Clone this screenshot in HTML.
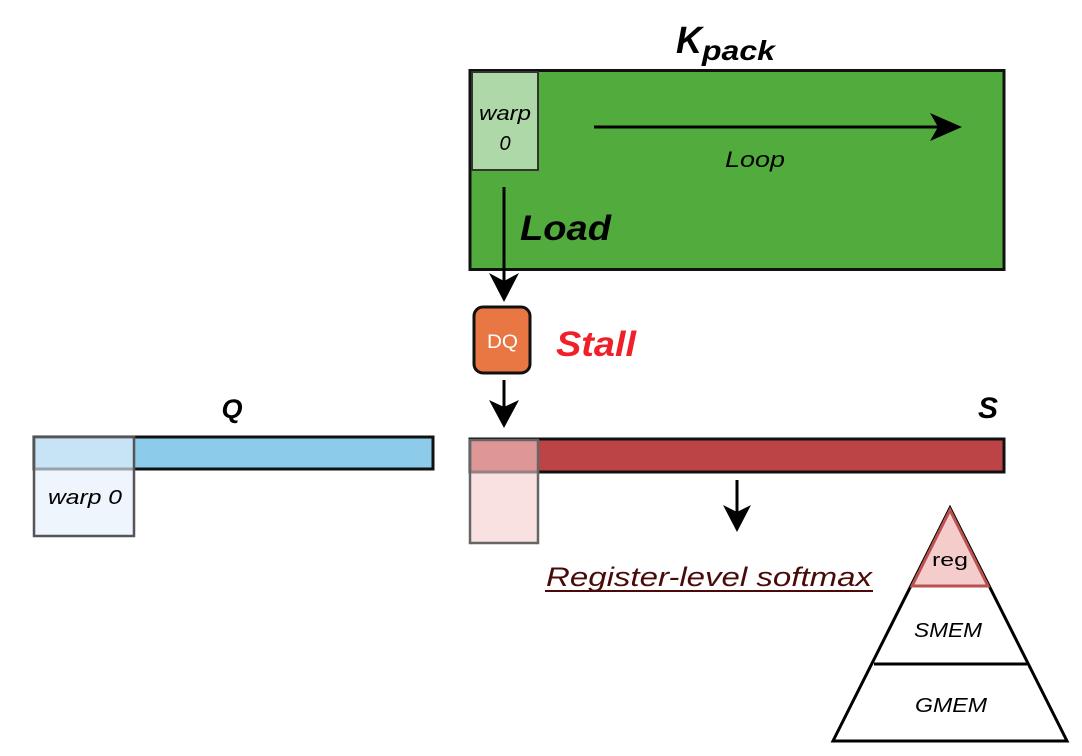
<!DOCTYPE html>
<html><head><meta charset="utf-8"><style>
html,body{margin:0;padding:0;background:#fff;}
svg{display:block;}
text{font-family:"Liberation Sans",sans-serif;}
</style></head><body>
<svg width="1082" height="756" viewBox="0 0 1082 756" xmlns="http://www.w3.org/2000/svg">
<!-- K pack -->
<text x="676" y="53" font-size="38" font-weight="bold" font-style="italic" textLength="26" lengthAdjust="spacingAndGlyphs">K</text>
<text x="702" y="60" font-size="28" font-weight="bold" font-style="italic" textLength="73" lengthAdjust="spacingAndGlyphs">pack</text>
<rect x="470" y="70.5" width="534" height="199" fill="#52ab3d" stroke="#111" stroke-width="3"/>
<rect x="472" y="72" width="66" height="98" fill="#afd8a8" stroke="#333" stroke-width="2"/>
<text x="479" y="120" font-size="20" font-style="italic" textLength="52" lengthAdjust="spacingAndGlyphs">warp</text>
<text x="505" y="150" font-size="20" font-style="italic" text-anchor="middle">0</text>
<line x1="594" y1="127" x2="940" y2="127" stroke="#000" stroke-width="3"/>
<path d="M930,113 L962,127 L930,141 L938,127 z" fill="#000"/>
<text x="725" y="167" font-size="22" font-style="italic" textLength="60" lengthAdjust="spacingAndGlyphs">Loop</text>
<text x="520" y="240" font-size="35" font-weight="bold" font-style="italic" textLength="91" lengthAdjust="spacingAndGlyphs">Load</text>
<line x1="504" y1="187" x2="504" y2="285" stroke="#000" stroke-width="3"/>
<path d="M489,273 L504,302 L519,273 L504,281 z" fill="#000"/>
<!-- DQ -->
<rect x="474" y="307" width="56" height="66" rx="9" fill="#e87743" stroke="#111" stroke-width="3"/>
<text x="487" y="348" font-size="19" fill="#fff" textLength="31" lengthAdjust="spacingAndGlyphs">DQ</text>
<text x="556" y="356" font-size="35" font-weight="bold" font-style="italic" fill="#f0202a" textLength="80" lengthAdjust="spacingAndGlyphs">Stall</text>
<line x1="504" y1="380" x2="504" y2="410" stroke="#000" stroke-width="3"/>
<path d="M489,400 L504,428 L519,400 L504,407 z" fill="#000"/>
<!-- Q -->
<text x="232" y="418" font-size="27" font-weight="bold" font-style="italic" text-anchor="middle">Q</text>
<rect x="34" y="437" width="399" height="32" fill="#8ccbea" stroke="#111" stroke-width="3"/>
<rect x="34" y="437" width="100" height="99" fill="rgba(230,240,252,0.65)" stroke="#555" stroke-width="2.5"/>
<text x="48" y="504" font-size="20" font-style="italic" textLength="74" lengthAdjust="spacingAndGlyphs">warp 0</text>
<!-- S -->
<text x="988" y="418" font-size="30" font-weight="bold" font-style="italic" text-anchor="middle">S</text>
<rect x="470" y="439" width="534" height="33" fill="#bd4446" stroke="#111" stroke-width="3"/>
<rect x="470" y="440" width="68" height="103" fill="rgba(245,205,205,0.6)" stroke="#666" stroke-width="2.5"/>
<line x1="737" y1="480" x2="737" y2="515" stroke="#000" stroke-width="3"/>
<path d="M723,505 L737,532 L751,505 L737,512 z" fill="#000"/>
<text x="546" y="586" font-size="27" font-style="italic" fill="#4a0a0a" textLength="326" lengthAdjust="spacingAndGlyphs">Register-level softmax</text>
<line x1="545" y1="591" x2="873" y2="591" stroke="#4a0a0a" stroke-width="2"/>
<!-- pyramid -->
<path d="M950,508 L1067,741 L833,741 z" fill="#fff" stroke="#000" stroke-width="3"/>
<path d="M950,510 L988,586 L912,586 z" fill="#f5cccc" stroke="#b9524f" stroke-width="3"/>
<line x1="874" y1="664" x2="1027" y2="664" stroke="#000" stroke-width="3"/>
<text x="932" y="566" font-size="18" textLength="36" lengthAdjust="spacingAndGlyphs">reg</text>
<text x="914" y="637" font-size="20" font-style="italic" textLength="68" lengthAdjust="spacingAndGlyphs">SMEM</text>
<text x="915" y="712" font-size="20" font-style="italic" textLength="72" lengthAdjust="spacingAndGlyphs">GMEM</text>
</svg>
</body></html>
